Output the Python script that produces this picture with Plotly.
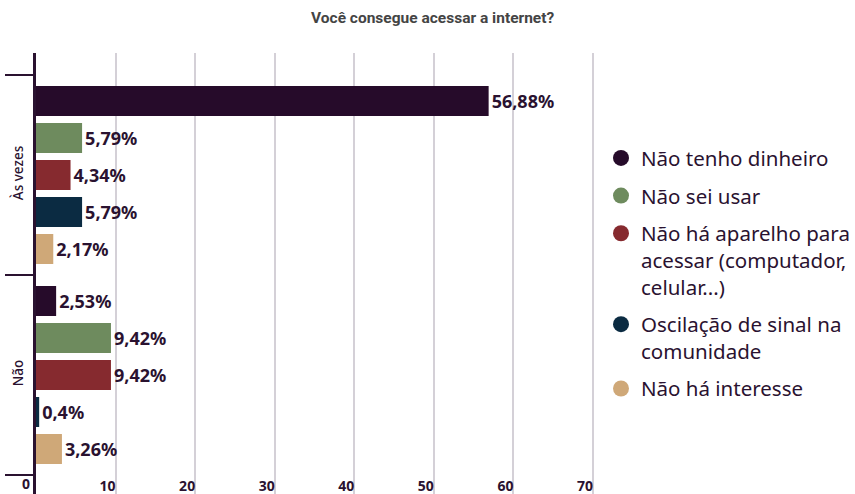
import plotly.graph_objects as go

categories = ["Às vezes", "Não"]
series_names = [
    "Não tenho dinheiro",
    "Não sei usar",
    "Não há aparelho para<br>acessar (computador,<br>celular...)",
    "Oscilação de sinal na<br>comunidade",
    "Não há interesse",
]
series_values = [
    [56.88, 2.53],
    [5.79, 9.42],
    [4.34, 9.42],
    [5.79, 0.4],
    [2.17, 3.26],
]
colors = ["#260b2a", "#6e8b5e", "#862a2f", "#0b2b42", "#cfa878"]
x_ticks = [0, 10, 20, 30, 40, 50, 60, 70]
title = "Você consegue acessar a internet?"

DARK = "#2a1230"
cat_pos = list(range(len(categories)))


def fmt(v):
    return ("%g" % v).replace(".", ",") + "%"


fig = go.Figure()
for name, vals, col in zip(series_names, series_values, colors):
    fig.add_trace(go.Bar(
        y=cat_pos, x=vals, orientation="h", name=name,
        marker=dict(color=col, line=dict(width=0)),
        text=[fmt(v) for v in vals], textposition="outside",
        textfont=dict(family="Noto Sans", size=18, color=DARK, weight="bold"),
        cliponaxis=False, showlegend=False, hoverinfo="skip",
    ))
for i, (name, col) in enumerate(zip(series_names, colors)):
    fig.add_trace(go.Scatter(
        x=[None], y=[None], mode="markers", name=name,
        marker=dict(color=col, size=16, symbol="circle"),
        legendgroup=f"g{i}", showlegend=True,
    ))

tick_font = dict(family="Noto Sans", size=14, color=DARK, weight="bold")

fig.update_layout(
    width=855, height=494,
    margin=dict(l=36, r=251, t=53, b=0),
    paper_bgcolor="white", plot_bgcolor="white",
    barmode="group", bargap=0.075, bargroupgap=0.19,
    title=dict(text=title, x=0.506, xanchor="center", y=0.975, yanchor="top",
               font=dict(family="Roboto", size=15.5, color="#444444", weight="bold")),
    legend=dict(x=1.0, xanchor="left", y=0.807, yanchor="top", valign="top",
                font=dict(family="Noto Sans", size=20.5, color=DARK),
                tracegroupgap=8, itemsizing="trace", bgcolor="rgba(0,0,0,0)"),
    showlegend=True,
    annotations=[dict(x=x_ticks[0], y=0, xref="x", yref="paper",
                      text=str(x_ticks[0]), showarrow=False,
                      xanchor="right", yanchor="bottom", xshift=-5,
                      borderpad=0, font=tick_font)],
)
fig.update_xaxes(
    range=[0, 71], tickvals=x_ticks[1:], ticktext=[str(t) for t in x_ticks[1:]],
    showgrid=True, gridcolor="#d4d0d7", gridwidth=2, zeroline=False,
    showline=False, ticks="", ticklabelposition="inside left",
    ticklabelstandoff=-6,
    tickfont=tick_font,
)
fig.update_yaxes(
    range=[1.595, -0.61],
    tickmode="array", tickvals=cat_pos, ticktext=categories, ticks="",
    minor=dict(tickmode="linear", tick0=0.5, dtick=1, ticks="outside",
               ticklen=28, tickwidth=2, tickcolor=DARK, showgrid=False),
    showline=True, linecolor=DARK, linewidth=3,
    tickangle=-90, ticklabelstandoff=5,
    tickfont=dict(family="Noto Sans", size=13.5, color=DARK, weight=500),
    showgrid=False, zeroline=False,
)

fig.write_html("out.html")
